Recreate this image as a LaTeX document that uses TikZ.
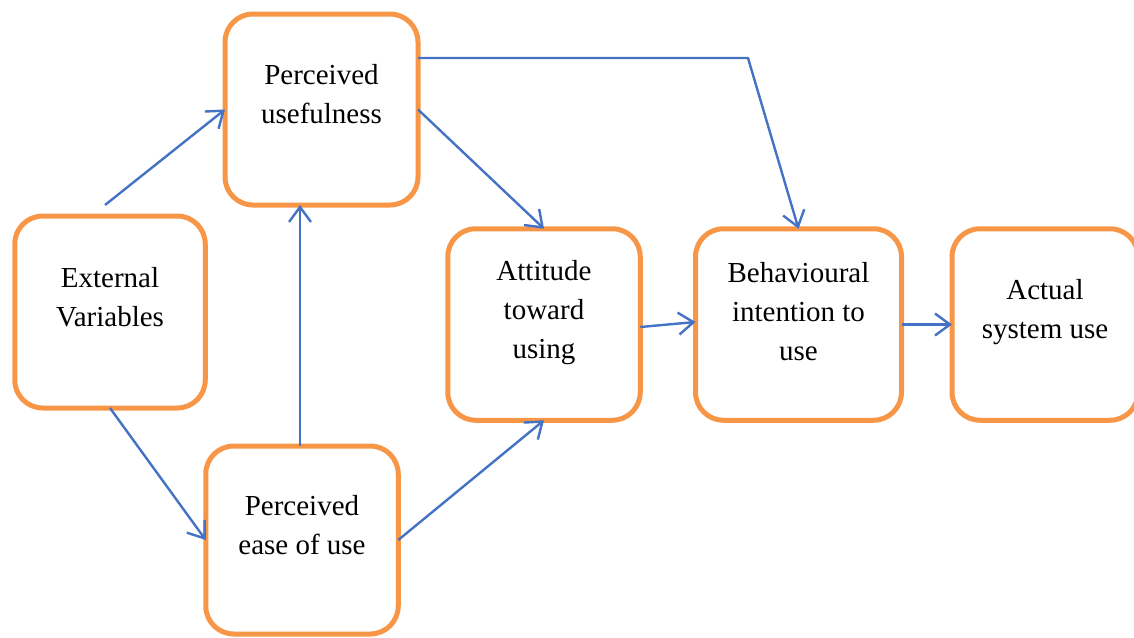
\documentclass[tikz,border=0pt]{standalone}
\usepackage{fontspec}
\setmainfont{Liberation Serif}
\usetikzlibrary{arrows.meta,calc}
\definecolor{boxorange}{RGB}{247,150,70}
\definecolor{linkblue}{RGB}{68,114,196}
\begin{document}
\begin{tikzpicture}[x=1pt,y=-1pt,
  box/.style={draw=boxorange, line width=5pt, rounded corners=28pt, fill=white,
    inner sep=0pt, outer sep=0pt},
  caption/.style={font=\fontsize{29}{39}\selectfont, align=center, text=black, yshift=15pt},
  link/.style={draw=linkblue, line width=2.4pt, line join=round,
    -{Straight Barb[length=15pt,width=22pt,line width=2.4pt]}}]
\useasboundingbox (0,0) rectangle (1134,637);

% stages of the model
\node[box, minimum width=190.5pt, minimum height=192pt] (ev) at (110,312) {};
\node[caption] at (ev.center) {External\\Variables};

\node[box, minimum width=193pt, minimum height=191pt] (pu) at (321.5,109.5) {};
\node[caption] at (pu.center) {Perceived\\usefulness};

\node[box, minimum width=192.5pt, minimum height=188pt] (peou) at (302,540) {};
\node[caption] at (peou.center) {Perceived\\ease of use};

\node[box, minimum width=192.5pt, minimum height=191.5pt] (att) at (544,324.5) {};
\node[caption, yshift=-3pt] at (att.center) {Attitude\\toward\\using};

\node[box, minimum width=206pt, minimum height=191.5pt] (bi) at (798.5,324.5) {};
\node[caption, yshift=-2pt] at (bi.center) {Behavioural\\intention to\\use};

\node[box, minimum width=186pt, minimum height=191.5pt] (asu) at (1045,324.5) {};
\node[caption, yshift=-3pt] at (asu.center) {Actual\\system use};

% influences between the stages
\coordinate (bend) at (748,58);
\draw[link] ([shift={(-5,-11)}]ev.north) -- (pu.west);
\draw[link] (ev.south) -- (peou.west);
\draw[link] ([xshift=-2pt]peou.north) -- ([xshift=-2pt]peou.north |- pu.south);
\draw[link] (pu.east) -- (att.north);
\draw[link] (peou.east) -- (att.south);
\draw[link] ([yshift=51.5pt]pu.east) -- (bend) -- (bi.north);
\draw[link] ([yshift=-2.5pt]att.east) -- ([yshift=2.5pt]bi.west);
\draw[link] (bi.east) -- (asu.west);
\end{tikzpicture}
\end{document}
